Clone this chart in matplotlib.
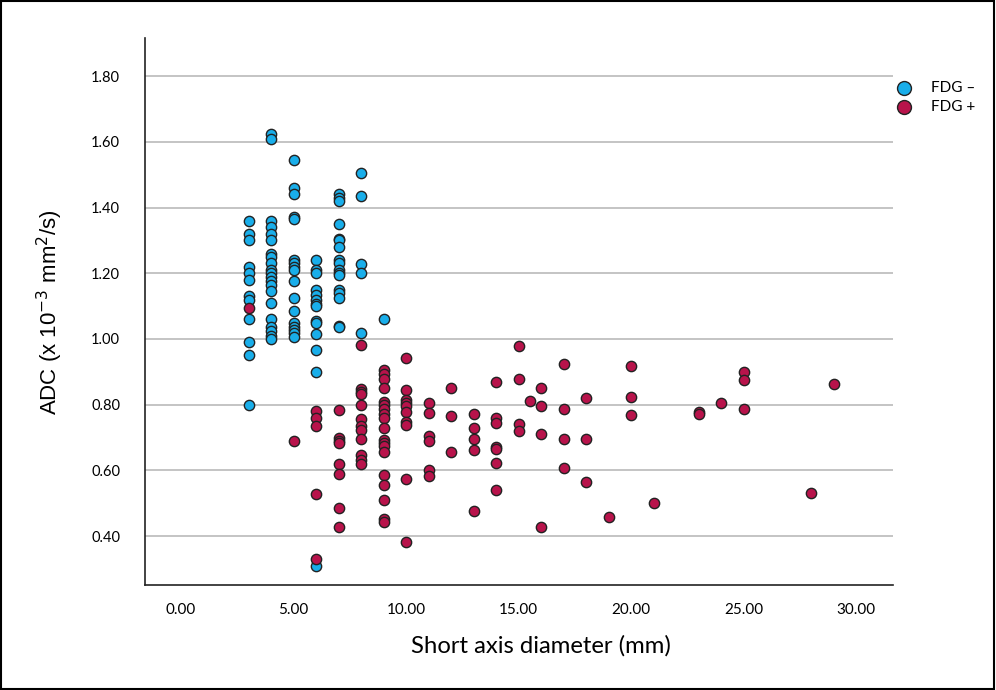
import matplotlib
matplotlib.use("Agg")
from matplotlib import pyplot as plt
from matplotlib.patches import Rectangle

# FDG negative nodes (blue): short axis diameter (mm), ADC
neg_x = [3]*12 + [4]*21 + [5]*17 + [6]*14 + [7]*17 + [8]*5 + [9]
neg_y = [1.36, 1.32, 1.30, 1.22, 1.20, 1.18, 1.13, 1.12, 1.06, 0.99, 0.95, 0.80,
         1.625, 1.61, 1.36, 1.34, 1.32, 1.30, 1.26, 1.25, 1.23, 1.21, 1.20, 1.19,
         1.175, 1.165, 1.145, 1.11, 1.06, 1.035, 1.025, 1.01, 1.00,
         1.545, 1.46, 1.44, 1.37, 1.365, 1.24, 1.23, 1.22, 1.21, 1.175, 1.125,
         1.085, 1.05, 1.037, 1.027, 1.017, 1.007,
         1.24, 1.21, 1.20, 1.15, 1.135, 1.12, 1.105, 1.10, 1.055, 1.05, 1.015,
         0.966, 0.90, 0.31,
         1.44, 1.43, 1.42, 1.35, 1.305, 1.30, 1.28, 1.24, 1.23, 1.21, 1.20, 1.195,
         1.15, 1.14, 1.125, 1.04, 1.037,
         1.505, 1.435, 1.228, 1.202, 1.017,
         1.06]

# FDG positive nodes (red)
pos_x = ([3, 5] + [6]*5 + [7]*8 + [8]*12 + [9]*19 + [10]*10 + [11]*6 + [12]*3
         + [13]*5 + [14]*7 + [15]*4 + [15.5] + [16]*4 + [17]*4 + [18]*3 + [19]
         + [20]*3 + [21] + [23]*2 + [24] + [25]*3 + [28] + [29])
pos_y = [1.095, 0.69,
         0.78, 0.76, 0.735, 0.527, 0.33,
         0.783, 0.70, 0.69, 0.683, 0.62, 0.59, 0.486, 0.428,
         0.981, 0.849, 0.84, 0.832, 0.799, 0.758, 0.735, 0.722, 0.697, 0.646, 0.633, 0.621,
         0.907, 0.893, 0.878, 0.852, 0.809, 0.799, 0.788, 0.773, 0.761, 0.730, 0.694,
         0.684, 0.674, 0.657, 0.586, 0.557, 0.510, 0.451, 0.444,
         0.941, 0.844, 0.814, 0.804, 0.796, 0.778, 0.748, 0.738, 0.573, 0.381,
         0.804, 0.776, 0.705, 0.690, 0.601, 0.583,
         0.850, 0.766, 0.657,
         0.773, 0.728, 0.695, 0.662, 0.476,
         0.868, 0.760, 0.743, 0.672, 0.665, 0.623, 0.540,
         0.978, 0.877, 0.740, 0.720,
         0.812,
         0.852, 0.797, 0.710, 0.429,
         0.924, 0.786, 0.695, 0.608,
         0.821, 0.697, 0.564,
         0.459,
         0.918, 0.822, 0.769,
         0.500,
         0.779, 0.772,
         0.804,
         0.898, 0.875, 0.786,
         0.530,
         0.863]

x_ticks = [0, 5, 10, 15, 20, 25, 30]
y_ticks = [0.4, 0.6, 0.8, 1.0, 1.2, 1.4, 1.6, 1.8]

blue = "#19aeea"
red = "#b8134b"
tick_font = "Lato"

fig = plt.figure(figsize=(9.96, 6.90), dpi=100)
ax = fig.add_axes([0.1456, 0.152, 0.751, 0.793])

ax.scatter(neg_x, neg_y, s=55, c=blue, edgecolors="#222222", linewidths=1.0, zorder=3, label="FDG \u2013")
ax.scatter(pos_x, pos_y, s=55, c=red, edgecolors="#222222", linewidths=1.0, zorder=3, label="FDG +")

ax.set_xlim(-1.6, 31.64)
ax.set_ylim(0.251, 1.916)
ax.set_xticks(x_ticks)
ax.set_yticks(y_ticks)
ax.set_xticklabels([f"{v:.2f}" for v in x_ticks], fontsize=11, family=tick_font)
ax.set_yticklabels([f"{v:.2f}" for v in y_ticks], fontsize=10.5, family=tick_font)
ax.tick_params(axis="both", length=0)
ax.tick_params(axis="y", pad=18)
ax.tick_params(axis="x", pad=13)
ax.grid(axis="y", color="#c4c4c4", linewidth=1.4, zorder=0)
ax.set_axisbelow(True)
for side in ["top", "right"]:
    ax.spines[side].set_visible(False)
for side in ["left", "bottom"]:
    ax.spines[side].set_linewidth(1.2)
    ax.spines[side].set_color("#222222")

fig.text(0.5435, 0.064, "Short axis diameter (mm)", fontsize=17.2, family=tick_font,
         ha="center", va="center")
fig.text(0.050, 0.548, "ADC (x 10$^{-3}$ mm$^{2}$/s)", fontsize=16, family="Liberation Sans",
         rotation=90, ha="center", va="center")

leg = ax.legend(loc="upper left", bbox_to_anchor=(0.986, 0.932), frameon=False,
                prop={"family": tick_font, "size": 11}, handletextpad=0.8,
                labelspacing=0.3, markerscale=1.35, borderaxespad=0)

fig.add_artist(Rectangle((0.001, 0.001), 0.997, 0.997, transform=fig.transFigure,
                         fill=False, edgecolor="black", linewidth=1.5))

fig.savefig("out.png", dpi=100)
